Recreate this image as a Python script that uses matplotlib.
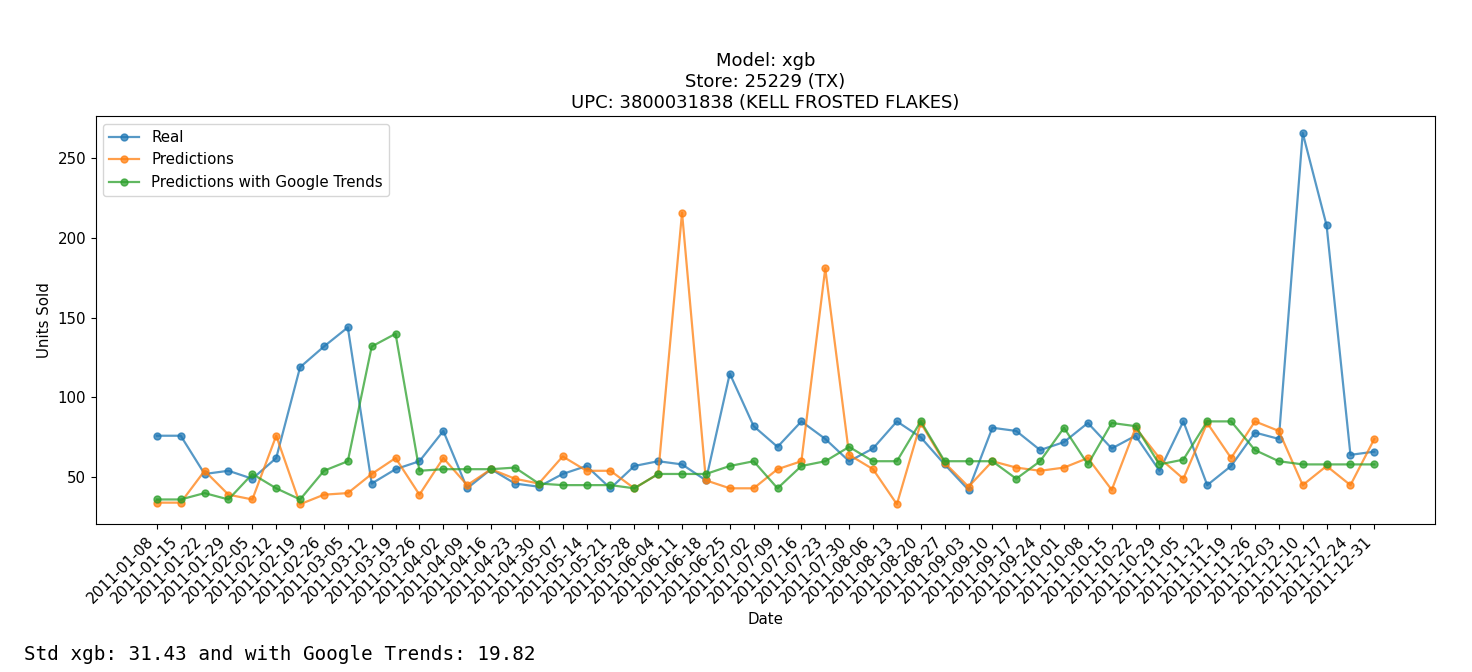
import matplotlib
matplotlib.use("Agg")
import matplotlib.pyplot as plt

dates = [
    "2011-01-08", "2011-01-15", "2011-01-22", "2011-01-29", "2011-02-05", "2011-02-12",
    "2011-02-19", "2011-02-26", "2011-03-05", "2011-03-12", "2011-03-19", "2011-03-26",
    "2011-04-02", "2011-04-09", "2011-04-16", "2011-04-23", "2011-04-30", "2011-05-07",
    "2011-05-14", "2011-05-21", "2011-05-28", "2011-06-04", "2011-06-11", "2011-06-18",
    "2011-06-25", "2011-07-02", "2011-07-09", "2011-07-16", "2011-07-23", "2011-07-30",
    "2011-08-06", "2011-08-13", "2011-08-20", "2011-08-27", "2011-09-03", "2011-09-10",
    "2011-09-17", "2011-09-24", "2011-10-01", "2011-10-08", "2011-10-15", "2011-10-22",
    "2011-10-29", "2011-11-05", "2011-11-12", "2011-11-19", "2011-11-26", "2011-12-03",
    "2011-12-10", "2011-12-17", "2011-12-24", "2011-12-31",
]

real = [
    76, 76, 52, 54, 49, 62, 119, 132, 144, 46, 55, 60,
    79, 43, 55, 46, 44, 52, 57, 43, 57, 60, 58, 48,
    115, 82, 69, 85, 74, 60, 68, 85, 75, 58, 42, 81,
    79, 67, 72, 84, 68, 76, 54, 85, 45, 57, 78, 74,
    266, 208, 64, 66,
]

predictions = [
    34, 34, 54, 39, 36, 76, 33, 39, 40, 52, 62, 39,
    62, 45, 55, 49, 46, 63, 54, 54, 43, 52, 216, 48,
    43, 43, 55, 60, 181, 64, 55, 33, 84, 59, 44, 60,
    56, 54, 56, 62, 42, 81, 62, 49, 84, 62, 85, 79,
    45, 57, 45, 74,
]

predictions_gt = [
    36, 36, 40, 36, 52, 43, 36, 54, 60, 132, 140, 54,
    55, 55, 55, 56, 46, 45, 45, 45, 43, 52, 52, 52,
    57, 60, 43, 57, 60, 69, 60, 60, 85, 60, 60, 60,
    49, 60, 81, 58, 84, 82, 58, 61, 85, 85, 67, 60,
    58, 58, 58, 58,
]

title_lines = ["Model: xgb", "Store: 25229 (TX)", "UPC: 3800031838 (KELL FROSTED FLAKES)"]
series_labels = ["Real", "Predictions", "Predictions with Google Trends"]
std_text = "Std xgb: 31.43 and with Google Trends: 19.82"

plt.rcParams["font.size"] = 10.8

fig = plt.figure(figsize=(14.72, 6.72), dpi=100)
ax = fig.add_axes([0.0652, 0.220, 0.9098, 0.607])

for vals, lab in zip([real, predictions, predictions_gt], series_labels):
    ax.plot(dates, vals, marker="o", markersize=5, linewidth=1.6, alpha=0.75, label=lab)

ax.set_title("\n".join(title_lines), fontsize=13)
ax.set_xlabel("Date")
ax.set_ylabel("Units Sold")
ax.set_yticks([50, 100, 150, 200, 250])
ax.set_ylim(20.5, 276.5)
plt.setp(ax.get_xticklabels(), rotation=45, ha="right", rotation_mode="default")
ax.legend(loc="upper left")

fig.text(0.016, 0.018, std_text, family="DejaVu Sans Mono", fontsize=13.9, ha="left", va="baseline")

fig.savefig("out.png", dpi=100)
